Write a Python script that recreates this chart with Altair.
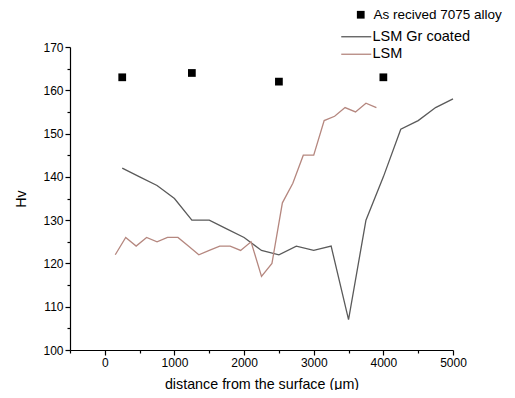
import altair as alt
import pandas as pd

# As received 7075 alloy (squares)
alloy_x = [250, 1250, 2500, 4000]
alloy_y = [163, 164, 162, 163]

# LSM Gr coated
gr_x = [250, 500, 750, 1000, 1250, 1500, 1750, 2000, 2250, 2500, 2750, 3000,
        3250, 3500, 3750, 4000, 4250, 4500, 4750, 5000]
gr_y = [142, 140, 138, 135, 130, 130, 128, 126, 123, 122, 124, 123,
        124, 107, 130, 140, 151, 153, 156, 158]

# LSM
lsm_x = [150, 300, 450, 600, 750, 900, 1050, 1200, 1350, 1500, 1650, 1800, 1950,
         2100, 2250, 2400, 2550, 2700, 2850, 3000, 3150, 3300, 3450, 3600, 3750, 3900]
lsm_y = [122, 126, 124, 126, 125, 126, 126, 124, 122, 123, 124, 124, 123,
         125, 117, 120, 134, 138.5, 145, 145, 153, 154, 156, 155, 157, 156]

x_major = [0, 1000, 2000, 3000, 4000, 5000]
x_minor = [-500, 500, 1500, 2500, 3500, 4500]
y_major = [100, 110, 120, 130, 140, 150, 160, 170]
y_minor = [105, 115, 125, 135, 145, 155, 165]

alloy_df = pd.DataFrame({"x": alloy_x, "y": alloy_y, "alloy": "As recived 7075 alloy"})
lines_df = pd.concat([
    pd.DataFrame({"x": gr_x, "y": gr_y, "series": "LSM Gr coated", "o": range(len(gr_x))}),
    pd.DataFrame({"x": lsm_x, "y": lsm_y, "series": "LSM", "o": range(len(lsm_x))}),
])

FONT = "Liberation Sans"

xscale = alt.Scale(domain=[-500, 5000], nice=False, zero=False)
yscale = alt.Scale(domain=[100, 170], nice=False, zero=False)

common = dict(
    grid=False, domainColor="black", tickColor="black", labelColor="black",
    titleColor="black", labelFont=FONT, titleFont=FONT, labelFontSize=12,
    titleFontSize=14.3, titleFontWeight="normal", format="d",
    labelOverlap=False, labelFlush=False, tickWidth=1.2, domainWidth=1.2,
)

xaxis = alt.Axis(
    values=x_major, orient="bottom", title="distance from the surface (\u03bcm)",
    tickSize=5, titlePadding=9, labelPadding=2, **common,
)
yaxis = alt.Axis(
    values=y_major, orient="left", title="Hv",
    tickSize=5, titlePadding=14, labelPadding=2, **common,
)
xaxis_minor = alt.Axis(
    values=x_minor, orient="bottom", title=None, labels=False, domain=False,
    tickSize=3, tickColor="black", tickWidth=1.2, grid=False,
)
yaxis_minor = alt.Axis(
    values=y_minor, orient="left", title=None, labels=False, domain=False,
    tickSize=3, tickColor="black", tickWidth=1.2, grid=False,
)

lines = alt.Chart(lines_df).mark_line(strokeWidth=1.3).encode(
    x=alt.X("x:Q", scale=xscale, axis=xaxis),
    y=alt.Y("y:Q", scale=yscale, axis=yaxis),
    order="o:Q",
    color=alt.Color(
        "series:N",
        scale=alt.Scale(domain=["LSM Gr coated", "LSM"], range=["#5a5a5a", "#b5877f"]),
        legend=alt.Legend(
            title=None, orient="none", legendX=279, legendY=-17.5,
            symbolType="M-3,0H3", symbolSize=100, symbolStrokeWidth=1.3,
            symbolFillColor="transparent",
            labelFont=FONT, labelFontSize=14.5, labelColor="black",
            rowPadding=2.5, padding=0, labelOffset=9,
        ),
    ),
)

points = alt.Chart(alloy_df).mark_point(filled=True, opacity=1, size=60).encode(
    x=alt.X("x:Q", scale=xscale, axis=xaxis_minor),
    y=alt.Y("y:Q", scale=yscale, axis=yaxis_minor),
    shape=alt.Shape(
        "alloy:N",
        scale=alt.Scale(range=["square"]),
        legend=alt.Legend(
            title=None, orient="none", legendX=284, legendY=-39,
            symbolSize=60, symbolFillColor="black", symbolStrokeColor="black",
            labelFont=FONT, labelFontSize=13.5, labelColor="black",
            padding=0, labelOffset=6, labelLimit=300,
        ),
    ),
    color=alt.value("black"),
)

chart = alt.layer(lines, points).resolve_axis(
    x="independent", y="independent"
).resolve_legend(shape="independent", color="independent").properties(
    width=383, height=303,
    autosize=alt.AutoSizeParams(type="none"),
    padding={"left": 62, "top": 39, "right": 54, "bottom": 40},
    background="white",
).configure_view(stroke=None)

chart.save("out.html", embed_options={"renderer": "svg", "actions": False})
